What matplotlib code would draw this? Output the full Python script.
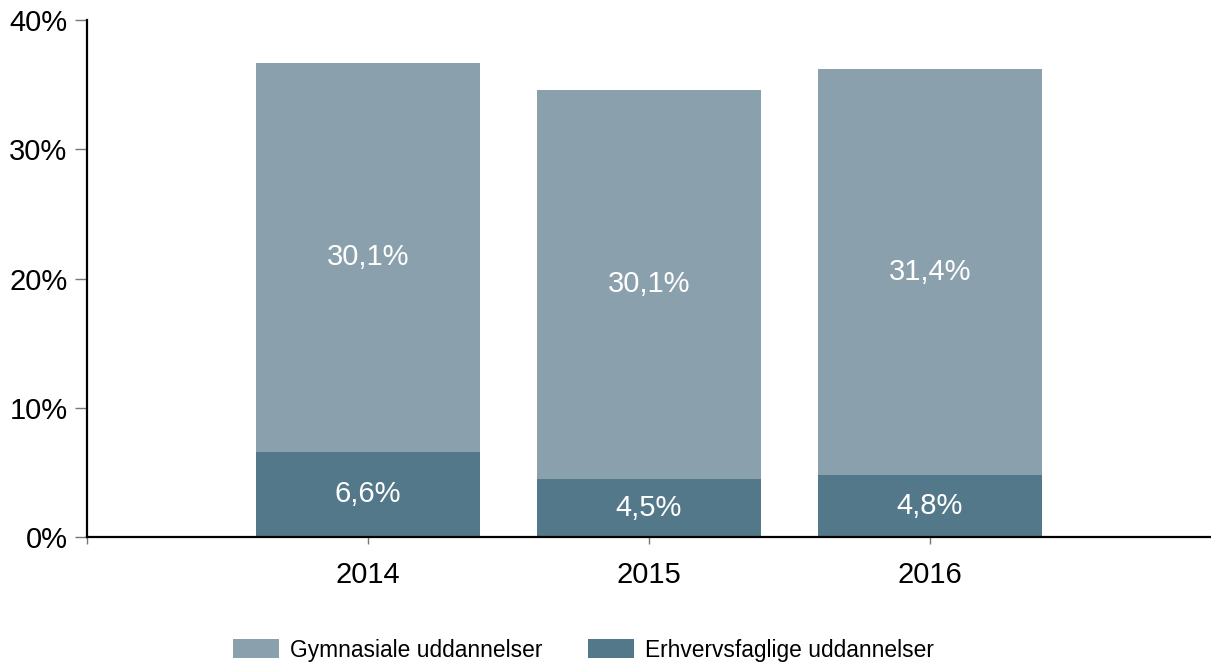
import matplotlib
matplotlib.use("Agg")
import matplotlib.pyplot as plt
from matplotlib.ticker import FuncFormatter

years = ["2014", "2015", "2016"]
erhverv = [6.6, 4.5, 4.8]
gymnas = [30.1, 30.1, 31.4]
yticks = [0, 10, 20, 30, 40]

plt.rcParams['font.family'] = ['Liberation Sans', 'DejaVu Sans']
light = "#8aa0ac"
dark = "#53788a"

fig = plt.figure(figsize=(12.11, 6.65), dpi=100)
ax = fig.add_axes([87/1211, 1-537/665, 1-87/1211, (537-20)/665])

x = list(range(len(years)))
b1 = ax.bar(x, erhverv, width=0.8, color=dark, label="Erhvervsfaglige uddannelser")
b2 = ax.bar(x, gymnas, width=0.8, bottom=erhverv, color=light, label="Gymnasiale uddannelser")

def fmt(v):
    return f"{v:.1f}".replace(".", ",") + "%"

for xi, e, g in zip(x, erhverv, gymnas):
    ax.text(xi, e/2, fmt(e), ha="center", va="center", color="white", fontsize=21)
    ax.text(xi, e + g/2, fmt(g), ha="center", va="center", color="white", fontsize=21)

ax.set_xlim(-1, 3)
ax.set_ylim(0, 40)
ax.set_yticks(yticks)
ax.yaxis.set_major_formatter(FuncFormatter(lambda v, p: f"{int(v)}%"))
ax.set_xticks([-1] + x)
ax.set_xticklabels([""] + years)
ax.tick_params(axis="both", labelsize=21, color="#777777", width=1)
ax.tick_params(axis="x", pad=12, length=5)
ax.tick_params(axis="y", pad=5, length=9)
for s in ["top", "right"]:
    ax.spines[s].set_visible(False)
for s in ["left", "bottom"]:
    ax.spines[s].set_linewidth(1.6)
    ax.spines[s].set_color("black")

handles = [b2, b1]
fig.legend(handles, [h.get_label() for h in handles], loc="center", bbox_to_anchor=(0.482, 1-650/665),
           ncol=2, frameon=False, fontsize=16.4, handlelength=2.0, handleheight=0.9,
           columnspacing=2.0, handletextpad=0.5)

fig.savefig("out.png", dpi=100)
